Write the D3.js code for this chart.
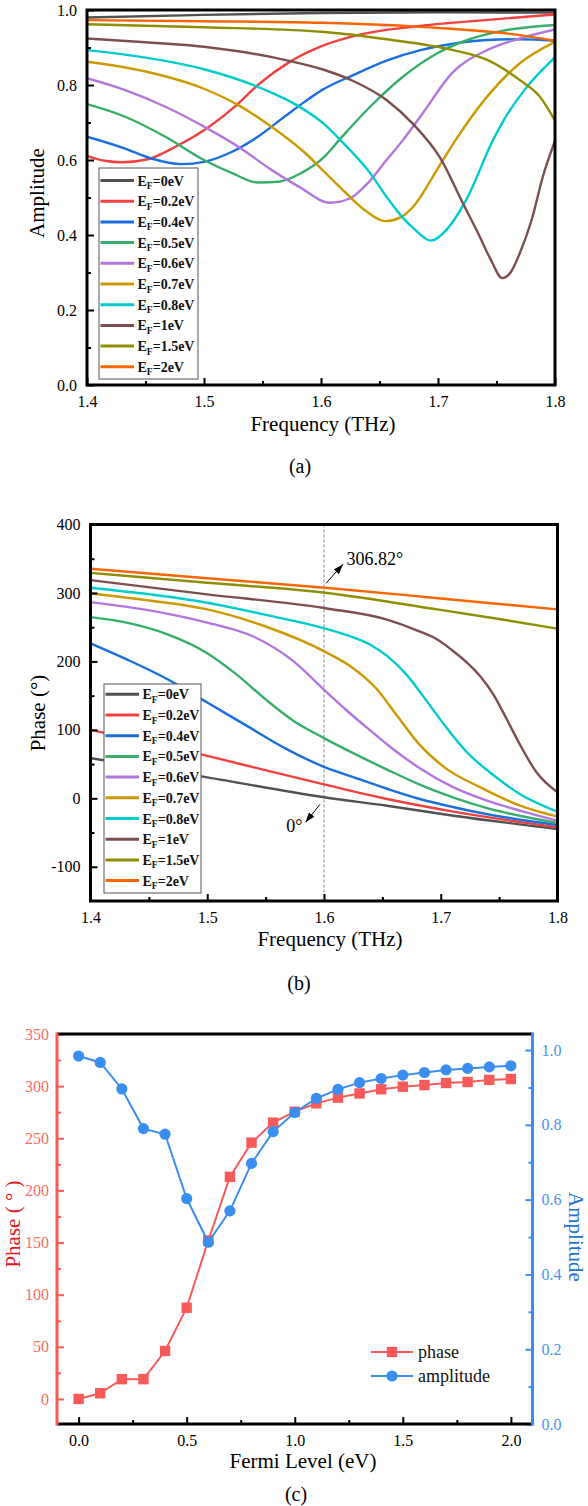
<!DOCTYPE html>
<html>
<head>
<meta charset="utf-8">
<script src="https://cdn.jsdelivr.net/npm/d3@7"></script>
<style>
  body { margin: 0; background: #fff; }
  svg { display: block; }
  svg text { font-family: "Liberation Serif", "Times New Roman", serif; }
</style>
</head>
<body>
<svg id="fig" width="588" height="1506"></svg>
<script>
// ---- data ----
const efLevels = ["0eV", "0.2eV", "0.4eV", "0.5eV", "0.6eV", "0.7eV", "0.8eV", "1eV", "1.5eV", "2eV"];
const efColors = ["#515151", "#F14040", "#1A6FDF", "#37AD6B", "#B177DE", "#CC9900", "#00CBCC", "#7D4E4E", "#8E8E00", "#FB6501"];

const freqMajor = [1.4, 1.5, 1.6, 1.7, 1.8];
const freqMinor = [1.45, 1.55, 1.65, 1.75];

// (a) amplitude vs frequency, [THz, amplitude]
const ampEf0 = [[1.4,0.980],[1.5,0.987],[1.6,0.992],[1.7,0.994],[1.8,0.993]];
const ampEf02 = [[1.4,0.611],[1.415,0.598],[1.43,0.594],[1.452,0.602],[1.476,0.636],[1.505,0.69],[1.528,0.747],[1.546,0.80],[1.574,0.863],[1.6,0.903],[1.634,0.935],[1.68,0.956],[1.74,0.973],[1.8,0.988]];
const ampEf04 = [[1.4,0.662],[1.432,0.631],[1.455,0.604],[1.481,0.589],[1.5,0.595],[1.524,0.622],[1.546,0.662],[1.569,0.716],[1.586,0.755],[1.6,0.785],[1.628,0.827],[1.656,0.865],[1.685,0.893],[1.713,0.91],[1.742,0.92],[1.77,0.922],[1.8,0.918]];
const ampEf05 = [[1.4,0.749],[1.432,0.716],[1.467,0.662],[1.5,0.60],[1.524,0.565],[1.546,0.54],[1.564,0.542],[1.583,0.565],[1.603,0.609],[1.616,0.655],[1.642,0.742],[1.67,0.822],[1.699,0.884],[1.727,0.922],[1.756,0.945],[1.8,0.96]];
const ampEf06 = [[1.4,0.818],[1.432,0.787],[1.467,0.742],[1.5,0.689],[1.529,0.636],[1.558,0.573],[1.581,0.529],[1.608,0.486],[1.625,0.498],[1.639,0.535],[1.656,0.60],[1.67,0.653],[1.685,0.716],[1.713,0.835],[1.742,0.893],[1.77,0.924],[1.8,0.948]];
const ampEf07 = [[1.4,0.862],[1.45,0.836],[1.5,0.79],[1.53,0.745],[1.558,0.688],[1.586,0.62],[1.603,0.568],[1.622,0.51],[1.638,0.465],[1.655,0.437],[1.668,0.447],[1.68,0.48],[1.699,0.573],[1.715,0.653],[1.742,0.769],[1.77,0.858],[1.8,0.915]];
const ampEf08 = [[1.4,0.893],[1.45,0.873],[1.5,0.842],[1.55,0.79],[1.58,0.745],[1.603,0.695],[1.616,0.655],[1.642,0.565],[1.656,0.502],[1.668,0.453],[1.68,0.415],[1.694,0.385],[1.707,0.413],[1.724,0.493],[1.747,0.653],[1.756,0.705],[1.776,0.795],[1.8,0.874]];
const ampEf1 = [[1.4,0.924],[1.45,0.914],[1.5,0.902],[1.569,0.867],[1.603,0.84],[1.628,0.81],[1.656,0.76],[1.679,0.695],[1.702,0.605],[1.722,0.48],[1.735,0.40],[1.745,0.335],[1.755,0.285],[1.762,0.30],[1.77,0.352],[1.78,0.44],[1.79,0.56],[1.8,0.651]];
const ampEf15 = [[1.4,0.962],[1.5,0.954],[1.6,0.942],[1.656,0.922],[1.713,0.893],[1.742,0.867],[1.77,0.813],[1.787,0.769],[1.8,0.705]];
const ampEf2 = [[1.4,0.973],[1.5,0.97],[1.6,0.966],[1.685,0.955],[1.77,0.933],[1.8,0.918]];

// (b) phase vs frequency, [THz, degrees]
const phEf0 = [[1.4,58.7],[1.5,30.6],[1.6,1.5],[1.654,-10.8],[1.711,-25.4],[1.8,-44.8]];
const phEf02 = [[1.4,100],[1.5,62],[1.54,45.2],[1.6,20.3],[1.654,-1],[1.711,-19.5],[1.8,-42.3]];
const phEf04 = [[1.4,226.4],[1.431,203],[1.466,174],[1.5,140],[1.534,105.8],[1.568,71.9],[1.6,46],[1.625,31],[1.654,14],[1.682,-1],[1.711,-13],[1.739,-22.9],[1.8,-38.9]];
const phEf05 = [[1.4,264.7],[1.431,256.6],[1.466,239.5],[1.5,212],[1.525,181],[1.551,143],[1.574,113],[1.6,88],[1.625,66],[1.654,42],[1.682,20],[1.711,1],[1.739,-14],[1.8,-36]];
const phEf06 = [[1.4,286.6],[1.454,273.5],[1.5,256.6],[1.54,236],[1.574,200],[1.601,157],[1.619,129],[1.639,100],[1.659,72],[1.682,44],[1.711,16],[1.739,-3],[1.77,-19],[1.8,-32.7]];
const phEf07 = [[1.4,299.3],[1.45,289],[1.5,276],[1.55,251],[1.601,214],[1.625,190],[1.645,160],[1.662,122],[1.682,78],[1.705,43],[1.734,16],[1.768,-10.8],[1.8,-26.8]];
const phEf08 = [[1.4,307.6],[1.5,285.7],[1.55,268],[1.601,248],[1.625,235],[1.64,224],[1.654,208],[1.671,180],[1.688,142],[1.705,103],[1.722,68],[1.745,34],[1.768,6],[1.8,-19.5]];
const phEf1 = [[1.4,318.7],[1.5,298],[1.601,277.7],[1.654,261],[1.68,245],[1.697,232],[1.71,216],[1.722,199],[1.734,178],[1.745,152],[1.757,114],[1.768,78],[1.782,38],[1.8,8.7]];
const phEf15 = [[1.4,329.4],[1.5,315],[1.601,300.3],[1.697,276],[1.75,262],[1.8,247.8]];
const phEf2 = [[1.4,335.3],[1.5,321.5],[1.601,307.6],[1.7,292],[1.8,276]];

const markFreq = 1.6;

// (c) values at 1.6 THz vs Fermi level
const fermiLevels = [0, 0.1, 0.2, 0.3, 0.4, 0.5, 0.6, 0.7, 0.8, 0.9, 1.0, 1.1, 1.2, 1.3, 1.4, 1.5, 1.6, 1.7, 1.8, 1.9, 2.0];
const phaseAt16 = [0, 5.5, 19, 19, 46, 87.5, 152, 213, 245.8, 265, 275.5, 283.5, 289, 293, 297, 299.5, 301, 303, 304, 306, 306.82];
const ampAt16 = [0.984, 0.967, 0.896, 0.79, 0.775, 0.603, 0.486, 0.570, 0.697, 0.782, 0.833, 0.871, 0.895, 0.913, 0.924, 0.933, 0.940, 0.947, 0.951, 0.955, 0.958];

// ---- drawing ----
const svg = d3.select("#fig");
const serif = '"Liberation Serif", "Times New Roman", serif';

svg.append("defs").append("marker")
    .attr("id", "arrow")
    .attr("markerUnits", "userSpaceOnUse")
    .attr("markerWidth", 10).attr("markerHeight", 7)
    .attr("refX", 10).attr("refY", 3.5)
    .attr("orient", "auto")
  .append("path")
    .attr("d", "M0,0 L10,3.5 L0,7 Z")
    .attr("fill", "#000");

function addAxis(axis, tx, ty, tickColor, textColor, size) {
    const g = svg.append("g")
        .attr("transform", `translate(${tx},${ty})`)
        .call(axis);
    g.style("font-family", serif).attr("font-size", size);
    g.select(".domain").remove();
    g.selectAll(".tick line").attr("stroke", tickColor).attr("stroke-width", 2);
    g.selectAll(".tick text").attr("fill", textColor);
    return g;
}

function label(text, x, y, size, rot, color) {
    return svg.append("text")
        .attr("transform", `translate(${x},${y})rotate(${rot || 0})`)
        .attr("text-anchor", "middle")
        .attr("dominant-baseline", "central")
        .style("font-family", serif)
        .attr("font-size", size)
        .attr("fill", color || "#000")
        .text(text);
}

function efLegend(x0, y0, w, h, rowY0, gap) {
    svg.append("rect")
        .attr("x", x0).attr("y", y0).attr("width", w).attr("height", h)
        .attr("fill", "#fff").attr("stroke", "#555").attr("stroke-width", 1);
    efLevels.forEach((lv, i) => {
        const yy = rowY0 + i * gap;
        svg.append("line")
            .attr("x1", x0 + 1.5).attr("x2", x0 + 35)
            .attr("y1", yy).attr("y2", yy)
            .attr("stroke", efColors[i]).attr("stroke-width", 3);
        const t = svg.append("text")
            .attr("x", x0 + 38.5).attr("y", yy + 5)
            .style("font-family", serif).attr("font-size", 14)
            .attr("font-weight", "bold").attr("fill", "#111");
        t.append("tspan").text("E");
        t.append("tspan").attr("dy", 3.5).attr("font-size", 9.5).text("F");
        t.append("tspan").attr("dy", -3.5).text("=" + lv);
    });
}

function freqPanel(p) {
    const x = d3.scaleLinear().domain([1.4, 1.8]).range([p.left, p.right]);
    const y = d3.scaleLinear().domain(p.yDomain).range([p.bottom, p.top]);

    svg.append("clipPath").attr("id", p.id)
      .append("rect")
        .attr("x", p.left).attr("y", p.top)
        .attr("width", p.right - p.left).attr("height", p.bottom - p.top);

    if (p.mark != null) {
        svg.append("line")
            .attr("x1", x(p.mark)).attr("x2", x(p.mark))
            .attr("y1", p.top).attr("y2", p.bottom)
            .attr("stroke", "#777").attr("stroke-width", 0.9)
            .attr("stroke-dasharray", "3,2");
    }

    const line = d3.line()
        .x(d => x(d[0]))
        .y(d => y(d[1]))
        .curve(d3.curveMonotoneX);

    svg.append("g").attr("clip-path", `url(#${p.id})`)
      .selectAll("path")
      .data(p.series)
      .join("path")
        .attr("d", line)
        .attr("fill", "none")
        .attr("stroke", (d, i) => efColors[i])
        .attr("stroke-width", 2.4);

    addAxis(d3.axisBottom(x).tickValues(freqMajor).tickFormat(d3.format(".1f")).tickSize(-7).tickPadding(11),
        0, p.bottom, "#000", "#000", 16);
    addAxis(d3.axisBottom(x).tickValues(freqMinor).tickFormat("").tickSize(-4),
        0, p.bottom, "#000", "#000", 16);
    addAxis(d3.axisLeft(y).tickValues(p.yMajor).tickFormat(p.fmt).tickSize(-7).tickPadding(10),
        p.left, 0, "#000", "#000", 16);
    addAxis(d3.axisLeft(y).tickValues(p.yMinor).tickFormat("").tickSize(-4),
        p.left, 0, "#000", "#000", 16);

    svg.append("rect")
        .attr("x", p.left).attr("y", p.top)
        .attr("width", p.right - p.left).attr("height", p.bottom - p.top)
        .attr("fill", "none").attr("stroke", "#000").attr("stroke-width", 3);

    return { x, y };
}

// (a)
freqPanel({
    id: "clipA", left: 87, right: 555, top: 10, bottom: 385,
    yDomain: [0, 1],
    yMajor: [0, 0.2, 0.4, 0.6, 0.8, 1.0],
    yMinor: [0.1, 0.3, 0.5, 0.7, 0.9],
    fmt: d3.format(".1f"),
    series: [ampEf0, ampEf02, ampEf04, ampEf05, ampEf06, ampEf07, ampEf08, ampEf1, ampEf15, ampEf2]
});
efLegend(99, 168, 99, 211, 180.5, 20.7);
label("Amplitude", 37, 193, 21, -90);
label("Frequency (THz)", 323, 424, 21);
label("(a)", 300, 466, 20);

// (b)
const pb = freqPanel({
    id: "clipB", left: 90.5, right: 557.5, top: 524.5, bottom: 901,
    yDomain: [-150, 400],
    yMajor: [-100, 0, 100, 200, 300, 400],
    yMinor: [-50, 50, 150, 250, 350],
    fmt: d => String(d),
    mark: markFreq,
    series: [phEf0, phEf02, phEf04, phEf05, phEf06, phEf07, phEf08, phEf1, phEf15, phEf2]
});
efLegend(104, 684, 97, 209, 694.3, 20.7);
label("Phase (°)", 37.5, 713, 21, -90);
label("Frequency (THz)", 330, 939, 21);
label("(b)", 299, 983, 20);

// annotations at 1.6 THz
const topPh = phaseAt16[phaseAt16.length - 1];
const botPh = phaseAt16[0];
const ax = pb.x(markFreq);
svg.append("line")
    .attr("x1", ax + 2).attr("y1", pb.y(topPh) - 5)
    .attr("x2", ax + 19).attr("y2", pb.y(topPh) - 24)
    .attr("stroke", "#000").attr("stroke-width", 1)
    .attr("marker-end", "url(#arrow)");
svg.append("text")
    .attr("x", ax + 22.5).attr("y", pb.y(topPh) - 29.5)
    .attr("dominant-baseline", "central")
    .style("font-family", serif).attr("font-size", 18)
    .text(topPh.toFixed(2) + "°");
svg.append("line")
    .attr("x1", ax - 4).attr("y1", pb.y(botPh) + 6)
    .attr("x2", ax - 18.5).attr("y2", pb.y(botPh) + 24)
    .attr("stroke", "#000").attr("stroke-width", 1)
    .attr("marker-end", "url(#arrow)");
svg.append("text")
    .attr("x", ax - 21.5).attr("y", pb.y(botPh) + 28)
    .attr("text-anchor", "end")
    .attr("dominant-baseline", "central")
    .style("font-family", serif).attr("font-size", 18)
    .text(botPh + "°");

// (c)
const phaseColor = "#F85A5A";
const ampColor = "#3A8EF0";
const cL = 57, cR = 532.5, cT = 1034, cB = 1424;
const xC = d3.scaleLinear().domain([-0.1, 2.1]).range([cL, cR]);
const yPh = d3.scaleLinear().domain([-24, 350]).range([cB, cT]);
const yAm = d3.scaleLinear().domain([0, 1.043]).range([cB, cT]);

const phasePts = fermiLevels.map((f, i) => [f, phaseAt16[i]]);
const ampPts = fermiLevels.map((f, i) => [f, ampAt16[i]]);

svg.append("path")
    .attr("d", d3.line().x(d => xC(d[0])).y(d => yPh(d[1]))(phasePts))
    .attr("fill", "none").attr("stroke", phaseColor).attr("stroke-width", 2);
svg.selectAll("rect.sq")
    .data(phasePts)
    .join("rect")
    .attr("class", "sq")
    .attr("x", d => xC(d[0]) - 5.2).attr("y", d => yPh(d[1]) - 5.2)
    .attr("width", 10.4).attr("height", 10.4)
    .attr("fill", phaseColor);

svg.append("path")
    .attr("d", d3.line().x(d => xC(d[0])).y(d => yAm(d[1]))(ampPts))
    .attr("fill", "none").attr("stroke", ampColor).attr("stroke-width", 2);
svg.selectAll("circle.dot")
    .data(ampPts)
    .join("circle")
    .attr("class", "dot")
    .attr("cx", d => xC(d[0])).attr("cy", d => yAm(d[1]))
    .attr("r", 5.6)
    .attr("fill", ampColor);

addAxis(d3.axisBottom(xC).tickValues([0, 0.5, 1.0, 1.5, 2.0]).tickFormat(d3.format(".1f")).tickSize(-7).tickPadding(11),
    0, cB, "#000", "#000", 16);
addAxis(d3.axisBottom(xC).tickValues([0.25, 0.75, 1.25, 1.75]).tickFormat("").tickSize(-4),
    0, cB, "#000", "#000", 16);
addAxis(d3.axisLeft(yPh).tickValues(d3.range(0, 351, 50)).tickFormat(d => String(d)).tickSize(-7).tickPadding(8),
    cL, 0, phaseColor, "#F46B6B", 16);
addAxis(d3.axisLeft(yPh).tickValues(d3.range(25, 350, 50)).tickFormat("").tickSize(-4),
    cL, 0, phaseColor, phaseColor, 16);
addAxis(d3.axisRight(yAm).tickValues([0, 0.2, 0.4, 0.6, 0.8, 1.0]).tickFormat(d3.format(".1f")).tickSize(-7).tickPadding(9),
    cR, 0, ampColor, "#4B93E6", 16);
addAxis(d3.axisRight(yAm).tickValues([0.1, 0.3, 0.5, 0.7, 0.9]).tickFormat("").tickSize(-4),
    cR, 0, ampColor, ampColor, 16);

svg.append("line").attr("x1", cL).attr("x2", cR).attr("y1", cT).attr("y2", cT)
    .attr("stroke", "#000").attr("stroke-width", 3);
svg.append("line").attr("x1", cL).attr("x2", cR).attr("y1", cB).attr("y2", cB)
    .attr("stroke", "#000").attr("stroke-width", 3);
svg.append("line").attr("x1", cL).attr("x2", cL).attr("y1", cT - 1.5).attr("y2", cB + 1.5)
    .attr("stroke", phaseColor).attr("stroke-width", 3);
svg.append("line").attr("x1", cR).attr("x2", cR).attr("y1", cT - 1.5).attr("y2", cB + 1.5)
    .attr("stroke", ampColor).attr("stroke-width", 3);

// legend (c)
[["phase", phaseColor, "sq"], ["amplitude", ampColor, "dot"]].forEach((e, i) => {
    const yy = 1352 + i * 24;
    svg.append("line").attr("x1", 371).attr("x2", 413).attr("y1", yy).attr("y2", yy)
        .attr("stroke", e[1]).attr("stroke-width", 2);
    if (e[2] === "sq") {
        svg.append("rect").attr("x", 392 - 5.2).attr("y", yy - 5.2)
            .attr("width", 10.4).attr("height", 10.4).attr("fill", e[1]);
    } else {
        svg.append("circle").attr("cx", 392).attr("cy", yy).attr("r", 5.6).attr("fill", e[1]);
    }
    svg.append("text").attr("x", 418).attr("y", yy)
        .attr("dominant-baseline", "central")
        .style("font-family", serif).attr("font-size", 18)
        .attr("fill", "#111")
        .text(e[0]);
});

label("Phase ( ° )", 12.5, 1224, 21, -90, "#E8141B");
label("Amplitude", 575.5, 1237, 21, 90, "#1F74D4");
label("Fermi Level (eV)", 303, 1461, 21);
label("(c)", 296, 1494, 20);
</script>
</body>
</html>
